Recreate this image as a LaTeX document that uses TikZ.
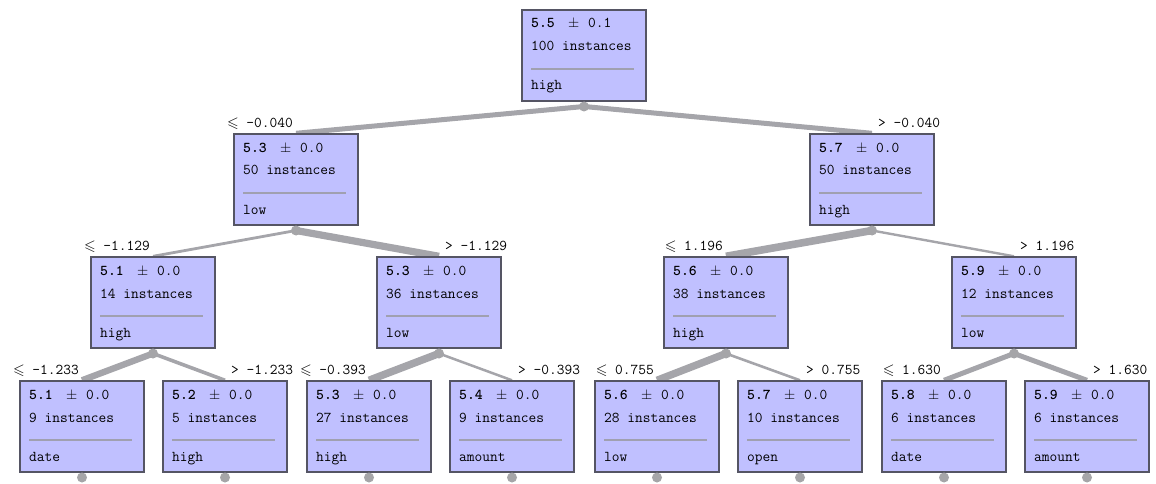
\documentclass[tikz,border=0pt]{standalone}
\usepackage{amssymb}
\usetikzlibrary{backgrounds}
\definecolor{boxfill}{RGB}{192,192,255}
\definecolor{boxline}{RGB}{85,85,100}
\definecolor{sepline}{RGB}{160,160,176}
\definecolor{edgecol}{RGB}{165,165,170}
\definecolor{dotcol}{RGB}{165,165,168}
\tikzset{
  box/.style={draw=boxline, fill=boxfill, line width=1.4pt, minimum width=124pt, minimum height=91pt, inner sep=0pt},
  txt/.style={anchor=base west, inner sep=0pt, font=\ttfamily\fontsize{15}{15}\selectfont},
  lbl/.style={inner sep=0pt, font=\ttfamily\fontsize{15}{15}\selectfont},
  sep/.style={draw=sepline, line width=1.5pt},
  edge/.style={draw=edgecol},
  dot/.style={fill=dotcol}
}
% name, left x, top y, mean, sd, n, label
\newcommand\tnode[7]{%
  \node[box] (#1) at ({#2+62},{#3+45.5}) {};
  \node[txt] (#1-m) at ({#2+9},{#3+18}) {\textbf{#4}};
  \node[txt] (#1-p) at ({#2+46},{#3+18}) {$\pm$};
  \node[txt] (#1-s) at ({#2+66},{#3+18}) {#5};
  \node[txt] (#1-n) at ({#2+9},{#3+41}) {#6 instances};
  \draw[sep] ({#2+9},{#3+59}) -- ({#2+112},{#3+59});
  \node[txt] (#1-l) at ({#2+9},{#3+80}) {#7};
  \coordinate (#1-d) at ({#2+62},{#3+96.5});
  \fill[dot] (#1-d) circle (5pt);
}
% parent, child, width, label
\newcommand\ledge[4]{%
  \begin{pgfonlayer}{background}\draw[edge,line width=#3pt] (#1-d) -- (#2.north);\end{pgfonlayer}
  \node[lbl,anchor=base east] (#2-e) at ([xshift=-3pt,yshift=6pt]#2.north) {$\leqslant$ #4};
}
\newcommand\redge[4]{%
  \begin{pgfonlayer}{background}\draw[edge,line width=#3pt] (#1-d) -- (#2.north);\end{pgfonlayer}
  \node[lbl,anchor=base west] (#2-e) at ([xshift=6pt,yshift=6pt]#2.north) {> #4};
}
\begin{document}
\begin{tikzpicture}[x=1pt,y=-1pt]
\useasboundingbox (0,0) rectangle (1156,484);
\tnode{r}{522}{10}{5.5}{0.1}{100}{high}
\tnode{a}{234}{134}{5.3}{0.0}{50}{low}
\tnode{b}{810}{134}{5.7}{0.0}{50}{high}
\tnode{aa}{91}{257}{5.1}{0.0}{14}{high}
\tnode{ab}{377}{257}{5.3}{0.0}{36}{low}
\tnode{ba}{664}{257}{5.6}{0.0}{38}{high}
\tnode{bb}{952}{257}{5.9}{0.0}{12}{low}
\tnode{aaa}{20}{381}{5.1}{0.0}{9}{date}
\tnode{aab}{163}{381}{5.2}{0.0}{5}{high}
\tnode{aba}{307}{381}{5.3}{0.0}{27}{high}
\tnode{abb}{450}{381}{5.4}{0.0}{9}{amount}
\tnode{baa}{595}{381}{5.6}{0.0}{28}{low}
\tnode{bab}{738}{381}{5.7}{0.0}{10}{open}
\tnode{bba}{882}{381}{5.8}{0.0}{6}{date}
\tnode{bbb}{1025}{381}{5.9}{0.0}{6}{amount}
\ledge{r}{a}{5}{-0.040}
\redge{r}{b}{5}{-0.040}
\ledge{a}{aa}{2.8}{-1.129}
\redge{a}{ab}{7.2}{-1.129}
\ledge{b}{ba}{7.6}{1.196}
\redge{b}{bb}{2.4}{1.196}
\ledge{aa}{aaa}{6.4}{-1.233}
\redge{aa}{aab}{3.6}{-1.233}
\ledge{ab}{aba}{7.5}{-0.393}
\redge{ab}{abb}{2.5}{-0.393}
\ledge{ba}{baa}{7.4}{0.755}
\redge{ba}{bab}{2.6}{0.755}
\ledge{bb}{bba}{5}{1.630}
\redge{bb}{bbb}{5}{1.630}
\end{tikzpicture}
\end{document}
